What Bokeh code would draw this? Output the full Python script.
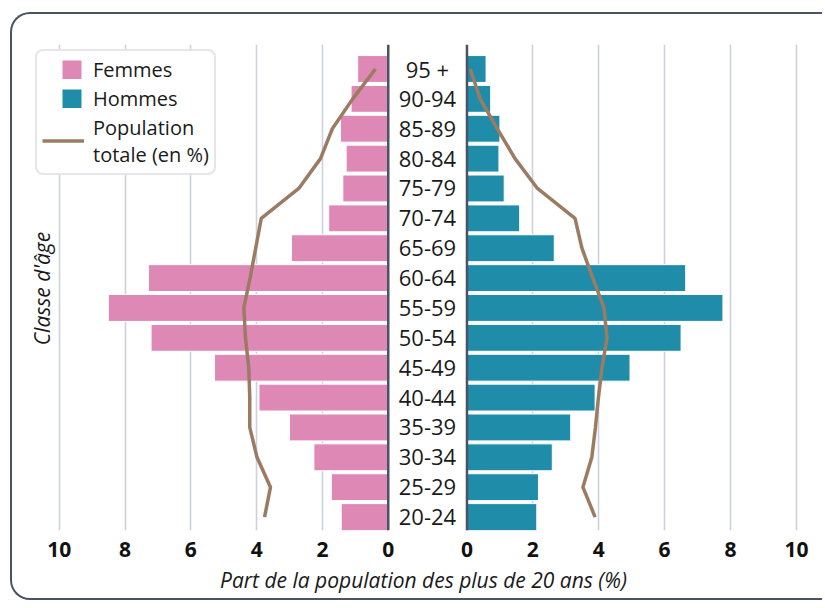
import math
from bokeh.plotting import figure
from bokeh.layouts import row, column
from bokeh.models import Range1d, FixedTicker, Span, Legend, LegendItem, ColumnDataSource, Label
from bokeh.core.properties import value
from bokeh.embed import file_html
from bokeh.resources import INLINE

# ---- data (bottom to top) ----
ages = ["20-24", "25-29", "30-34", "35-39", "40-44", "45-49", "50-54", "55-59",
        "60-64", "65-69", "70-74", "75-79", "80-84", "85-89", "90-94", "95 +"]
femmes = [1.43, 1.73, 2.26, 3.00, 3.93, 5.28, 7.21, 8.51,
          7.29, 2.94, 1.81, 1.38, 1.28, 1.45, 1.13, 0.93]
hommes = [2.12, 2.17, 2.59, 3.15, 3.89, 4.95, 6.50, 7.77,
          6.64, 2.65, 1.60, 1.13, 0.97, 1.00, 0.72, 0.58]
total_femmes = [3.76, 3.58, 3.99, 4.21, 4.21, 4.24, 4.34, 4.39,
                4.20, 4.03, 3.86, 2.72, 2.06, 1.70, 1.08, 0.39]
total_hommes = [3.89, 3.52, 3.79, 3.90, 3.99, 4.10, 4.25, 4.16,
                3.82, 3.49, 3.28, 2.14, 1.46, 0.92, 0.40, 0.10]
ticks = [0, 2, 4, 6, 8, 10]

x_title = "Part de la population des plus de 20 ans (%)"
y_title = "Classe d'âge"
legend_labels = ["Femmes", "Hommes", "Population\ntotale (en %)"]

FONT = "Open Sans"
PINK = "#dd88b5"
TEAL = "#1f8caa"
BROWN = "#9b7b62"
AXIS = "#4b5263"
GRID = "#cdd1db"
TXT = "#1a1a1a"

ypos = list(range(len(ages)))
src = ColumnDataSource(dict(y=ypos, age=ages, f=femmes, h=hommes,
                            tf=total_femmes, th=total_hommes))

yr = Range1d(-0.45, 15.82)
H = 550


def base(width, x_range, mbl, mbr):
    p = figure(width=width, height=H, x_range=x_range, y_range=yr,
               output_backend="svg", toolbar_location=None,
               min_border_left=mbl, min_border_right=mbr,
               min_border_top=30, min_border_bottom=34)
    p.outline_line_color = None
    p.border_fill_color = None
    p.background_fill_color = None
    p.ygrid.visible = False
    p.yaxis.visible = False
    return p


def style_x(p):
    ax = p.xaxis[0]
    ax.ticker = FixedTicker(ticks=ticks)
    ax.axis_line_color = None
    ax.major_tick_line_color = None
    ax.minor_tick_line_color = None
    ax.major_label_text_font = FONT
    ax.major_label_text_font_style = "bold"
    ax.major_label_text_font_size = "21px"
    ax.major_label_text_color = "#111111"
    ax.major_label_standoff = 5
    g = p.xgrid[0]
    g.ticker = FixedTicker(ticks=ticks[1:])
    g.grid_line_color = GRID
    g.grid_line_width = 1.6
    p.add_layout(Span(location=0, dimension="height", line_color=AXIS, line_width=2.5))


# ---- left panel (Femmes) ----
pl = base(382, Range1d(10.784, -0.19), 21, 0)
pl.hbar(y="y", left=0, right="f", height=0.9, source=src,
        fill_color=PINK, line_color="white", line_width=1)
line_f = pl.line(x="tf", y="y", source=src, line_color=BROWN, line_width=3.5)
style_x(pl)
pl.add_layout(Label(x=10.53, y=7.65, text=y_title, angle=math.pi / 2,
                    text_align="center", text_baseline="middle",
                    text_font=FONT, text_font_style="italic", text_font_size="21px",
                    text_color=TXT))

# legend swatches: a thick dashed stroke gives a square inside the wide glyph box
sq_f = pl.line(x=[math.nan], y=[math.nan], line_color=PINK, line_width=19,
               line_dash="0 20 19 10")
sq_h = pl.line(x=[math.nan], y=[math.nan], line_color=TEAL, line_width=19,
               line_dash="0 20 19 10")

legend = Legend(items=[LegendItem(label=legend_labels[0], renderers=[sq_f]),
                       LegendItem(label=legend_labels[1], renderers=[sq_h]),
                       LegendItem(label=legend_labels[2], renderers=[line_f])],
                location=(2, 355.5))
legend.label_text_font = FONT
legend.label_text_font_size = "20px"
legend.label_text_line_height = 1.0
legend.label_text_color = TXT
legend.glyph_width = 42
legend.glyph_height = 19
legend.label_standoff = 9
legend.padding = 5
legend.spacing = 2
legend.margin = 0
legend.border_line_color = "#c9cdd6"
legend.border_line_width = 2
legend.background_fill_color = "white"
legend.background_fill_alpha = 1
legend.border_radius = 8
pl.add_layout(legend)

# ---- right panel (Hommes) + age classes ----
pr = base(428, Range1d(-2.2, 10.216), 0, 19)
pr.hbar(y="y", left=0, right="h", height=0.9, source=src,
        fill_color=TEAL, line_color="white", line_width=1)
pr.line(x="th", y="y", source=src, line_color=BROWN, line_width=3.5)
style_x(pr)
pr.text(x=-1.2, y="y", text="age", source=src, text_align="center",
        text_baseline="middle", text_font=value(FONT), text_font_size="22px",
        text_color=TXT)

# ---- bottom strip with the x title ----
W = 382 + 428
HB = 34
pb = figure(width=W, height=HB, x_range=Range1d(0, W), y_range=Range1d(0, HB),
            output_backend="svg", toolbar_location=None,
            min_border_left=0, min_border_right=0, min_border_top=0, min_border_bottom=0)
pb.axis.visible = False
pb.grid.visible = False
pb.outline_line_color = None
pb.border_fill_color = None
pb.background_fill_color = None
pb.add_layout(Label(x=411, y=19, text=x_title, text_align="center", text_baseline="middle",
                    text_font=FONT, text_font_style="italic", text_font_size="21px",
                    text_color=TXT))

root = column(row(pl, pr), pb,
              styles={"margin-left": "10px", "margin-top": "12px",
                      "border-left": "2.5px solid #4b5263",
                      "border-top": "2.5px solid #4b5263",
                      "border-bottom": "2.5px solid #4b5263",
                      "border-radius": "20px 0 0 20px",
                      "overflow": "hidden"})

open("out.html", "w").write(file_html(root, INLINE))
